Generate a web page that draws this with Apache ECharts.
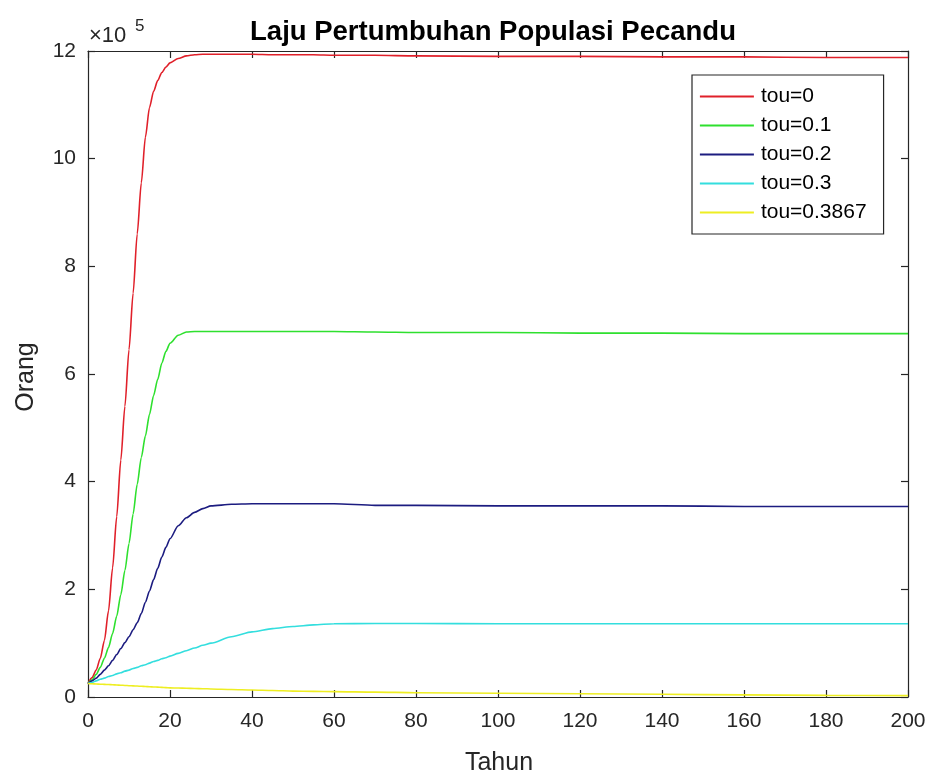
<!DOCTYPE html>
<html>
<head>
<meta charset="utf-8">
<title>Laju Pertumbuhan Populasi Pecandu</title>
<script src="https://cdn.jsdelivr.net/npm/echarts@6/dist/echarts.min.js"></script>
<style>
  html, body { margin: 0; padding: 0; background: #fff; }
  #chart { width: 930px; height: 776px; }
</style>
</head>
<body>
<div id="chart"></div>
<script>
// waktu (tahun)
const tahun = [0, 1, 2, 3, 4, 5, 6, 7, 8, 9, 10, 11, 12, 13, 14, 15, 16, 17, 18, 19, 20,
  22, 24, 26, 28, 30, 35, 40, 45, 50, 55, 60, 70, 80, 100, 120, 140, 160, 180, 200];

// populasi pecandu, satuan x10^5 orang
const tou0 = [0.25, 0.36, 0.5, 0.72, 1.05, 1.6, 2.4, 3.35, 4.4, 5.4, 6.45, 7.5, 8.6, 9.55, 10.4, 10.95, 11.25, 11.45, 11.6, 11.7, 11.78,
  11.86, 11.91, 11.93, 11.94, 11.94, 11.94, 11.94, 11.93, 11.93, 11.93, 11.92, 11.92, 11.91, 11.9, 11.9, 11.89, 11.89, 11.88, 11.88];
const tou01 = [0.25, 0.32, 0.42, 0.55, 0.72, 0.92, 1.18, 1.5, 1.9, 2.35, 2.85, 3.4, 3.95, 4.45, 4.85, 5.25, 5.6, 5.9, 6.2, 6.42, 6.57,
  6.72, 6.78, 6.79, 6.79, 6.79, 6.79, 6.79, 6.79, 6.79, 6.79, 6.79, 6.78, 6.77, 6.77, 6.76, 6.76, 6.75, 6.75, 6.75];
const tou02 = [0.25, 0.3, 0.35, 0.42, 0.5, 0.58, 0.68, 0.79, 0.9, 1.01, 1.12, 1.25, 1.38, 1.55, 1.76, 1.97, 2.18, 2.39, 2.6, 2.78, 2.94,
  3.18, 3.33, 3.43, 3.5, 3.55, 3.58, 3.59, 3.59, 3.59, 3.59, 3.59, 3.56, 3.56, 3.55, 3.55, 3.55, 3.54, 3.54, 3.54];
const tou03 = [0.25, 0.27, 0.3, 0.33, 0.35, 0.38, 0.4, 0.43, 0.45, 0.48, 0.5, 0.53, 0.55, 0.58, 0.6, 0.63, 0.66, 0.68, 0.71, 0.73, 0.76,
  0.81, 0.86, 0.91, 0.96, 1.0, 1.12, 1.21, 1.27, 1.31, 1.34, 1.36, 1.365, 1.365, 1.36, 1.36, 1.36, 1.36, 1.36, 1.36];
const tou03867 = [0.25, 0.246, 0.242, 0.238, 0.235, 0.231, 0.227, 0.223, 0.219, 0.215, 0.21, 0.207, 0.203, 0.199, 0.195, 0.19, 0.187, 0.183, 0.178, 0.175, 0.17,
  0.166, 0.162, 0.158, 0.154, 0.15, 0.14, 0.13, 0.12, 0.11, 0.105, 0.1, 0.09, 0.08, 0.07, 0.06, 0.05, 0.04, 0.03, 0.025];

const namaSeri = ['tou=0', 'tou=0.1', 'tou=0.2', 'tou=0.3', 'tou=0.3867'];
const dataSeri = [tou0, tou01, tou02, tou03, tou03867];
const warna = ['#e0202a', '#2ee02e', '#1c1c80', '#33dede', '#eeee22'];

const xTicks = [0, 20, 40, 60, 80, 100, 120, 140, 160, 180, 200];
const yTicks = [0, 2, 4, 6, 8, 10, 12];

const fontUtama = 'Liberation Sans, Arial, Helvetica, sans-serif';
const abu = '#262626';

let chart = echarts.init(document.getElementById('chart'), null, { renderer: 'canvas' });

const sumbuX = (pos, show) => ({
  type: 'value',
  position: pos,
  min: xTicks[0],
  max: xTicks[xTicks.length - 1],
  interval: xTicks[1] - xTicks[0],
  axisLine: { show: true, onZero: false, lineStyle: { color: abu, width: 1.2 } },
  axisTick: { show: true, inside: true, length: 7, lineStyle: { color: abu, width: 1.2 } },
  axisLabel: { show: show, margin: 14, color: abu, fontSize: 21, fontFamily: fontUtama },
  splitLine: { show: false }
});
const sumbuY = (pos, show) => ({
  type: 'value',
  position: pos,
  min: yTicks[0],
  max: yTicks[yTicks.length - 1],
  interval: yTicks[1] - yTicks[0],
  axisLine: { show: true, onZero: false, lineStyle: { color: abu, width: 1.2 } },
  axisTick: { show: true, inside: true, length: 7, lineStyle: { color: abu, width: 1.2 } },
  axisLabel: { show: show, margin: 12, color: abu, fontSize: 21, fontFamily: fontUtama },
  splitLine: { show: false }
});

chart.setOption({
  animation: false,
  backgroundColor: '#fff',
  grid: { left: 88, right: 22, top: 51, bottom: 79, containLabel: false },
  title: {
    text: 'Laju Pertumbuhan Populasi Pecandu',
    left: 488,
    top: 13,
    textAlign: 'center',
    textStyle: { color: '#000', fontSize: 27.5, fontWeight: 'bold', fontFamily: fontUtama }
  },
  legend: {
    orient: 'vertical',
    left: 692,
    top: 75,
    data: namaSeri,
    itemWidth: 54,
    itemHeight: 20,
    itemGap: 8,
    padding: [11, 17, 11, 7],
    borderColor: abu,
    borderWidth: 1.2,
    backgroundColor: '#fff',
    itemStyle: { color: 'rgba(0,0,0,0)', borderWidth: 0, opacity: 0 },
    lineStyle: { width: 1.8 },
    textStyle: { color: '#000', fontSize: 21, fontFamily: fontUtama, padding: [0, 0, 0, 2] }
  },
  xAxis: [sumbuX('bottom', true), sumbuX('top', false)],
  yAxis: [sumbuY('left', true), sumbuY('right', false)],
  graphic: [
    { type: 'text', left: 89, top: 25, style: { text: '×10', fill: abu, fontSize: 22, fontFamily: fontUtama } },
    { type: 'text', left: 135, top: 18, style: { text: '5', fill: abu, fontSize: 17, fontFamily: fontUtama } },
    { type: 'text', x: 499, y: 763, style: { text: 'Tahun', fill: abu, fontSize: 25, fontFamily: fontUtama, align: 'center', verticalAlign: 'middle' } },
    { type: 'text', x: 26, y: 377, rotation: Math.PI / 2, style: { text: 'Orang', fill: abu, fontSize: 25, fontFamily: fontUtama, align: 'center', verticalAlign: 'middle' } }
  ],
  series: dataSeri.map((arr, i) => ({
    name: namaSeri[i],
    type: 'line',
    xAxisIndex: 0,
    yAxisIndex: 0,
    symbol: 'none',
    smooth: 0.25,
    smoothMonotone: 'x',
    color: warna[i],
    lineStyle: { color: warna[i], width: 1.6 },
    data: tahun.map((t, k) => [t, arr[k]])
  }))
});
</script>
</body>
</html>
